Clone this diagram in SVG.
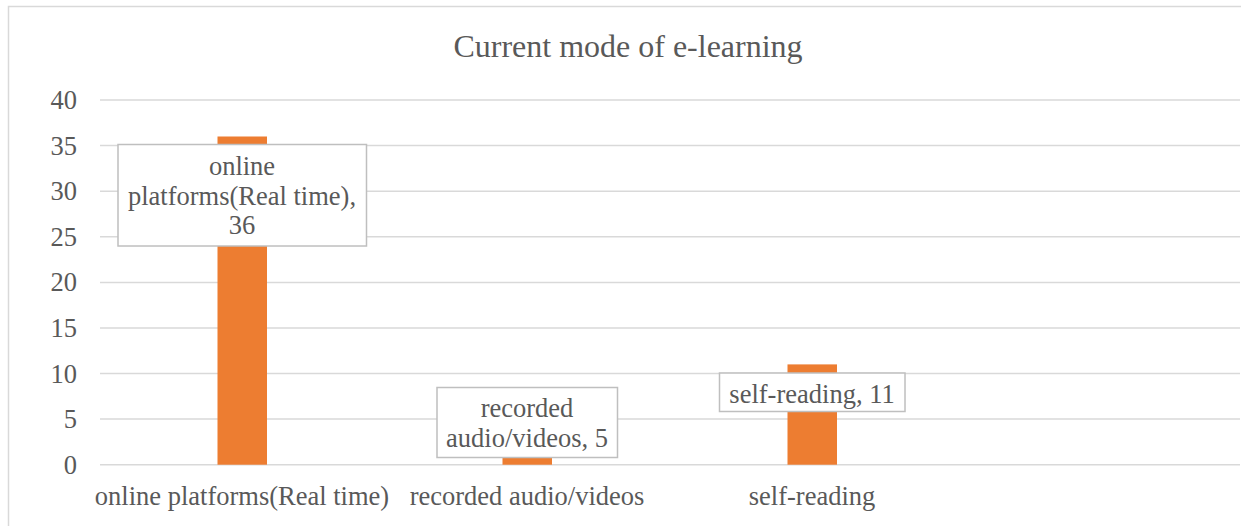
<svg xmlns="http://www.w3.org/2000/svg" width="1241" height="526" viewBox="0 0 1241 526">
<style>
.t{font-family:"Liberation Serif","Times New Roman",serif;fill:#595959}
.ax{font-size:26.5px}
.grid{stroke:#d9d9d9;stroke-width:1.5}
.bar{fill:#ed7d31}
.lbl{fill:#ffffff;stroke:#bfbfbf;stroke-width:1.5}
</style>
<rect x="0" y="0" width="1241" height="526" fill="#ffffff"/>
<path d="M8.5 526 V6.5 H1241" fill="none" stroke="#d9d9d9" stroke-width="1.5"/>
<text class="t" x="628" y="57" font-size="32" text-anchor="middle">Current mode of e-learning</text>
<g id="gridlines">
<line class="grid" x1="100" y1="100" x2="1240" y2="100"/>
<line class="grid" x1="100" y1="145.6" x2="1240" y2="145.6"/>
<line class="grid" x1="100" y1="191.2" x2="1240" y2="191.2"/>
<line class="grid" x1="100" y1="236.8" x2="1240" y2="236.8"/>
<line class="grid" x1="100" y1="282.4" x2="1240" y2="282.4"/>
<line class="grid" x1="100" y1="328" x2="1240" y2="328"/>
<line class="grid" x1="100" y1="373.5" x2="1240" y2="373.5"/>
<line class="grid" x1="100" y1="419.1" x2="1240" y2="419.1"/>
<line class="grid" x1="100" y1="464.7" x2="1240" y2="464.7"/>
</g>
<g id="yaxis" class="t ax" text-anchor="end">
<text x="77" y="109">40</text>
<text x="77" y="154.6">35</text>
<text x="77" y="200.2">30</text>
<text x="77" y="245.8">25</text>
<text x="77" y="291.4">20</text>
<text x="77" y="337">15</text>
<text x="77" y="382.5">10</text>
<text x="77" y="428.1">5</text>
<text x="77" y="473.7">0</text>
</g>
<g id="bar-online">
<rect class="bar" x="217.5" y="136.5" width="49.5" height="328.2"/>
</g>
<g id="bar-recorded">
<rect class="bar" x="502.5" y="419.1" width="49.5" height="45.6"/>
</g>
<g id="bar-self">
<rect class="bar" x="787.5" y="364.4" width="49.5" height="100.3"/>
</g>
<g id="label-online" class="t ax" text-anchor="middle">
<rect class="lbl" x="118" y="144.5" width="248.5" height="101.5"/>
<text x="242" y="175">online</text>
<text x="242" y="205">platforms(Real time),</text>
<text x="242" y="234">36</text>
</g>
<g id="label-recorded" class="t ax" text-anchor="middle">
<rect class="lbl" x="437" y="387.5" width="180.5" height="70"/>
<text x="527" y="417">recorded</text>
<text x="527" y="447">audio/videos, 5</text>
</g>
<g id="label-self" class="t ax" text-anchor="middle">
<rect class="lbl" x="719.5" y="373" width="185.5" height="38.5"/>
<text x="812" y="402.5">self-reading, 11</text>
</g>
<g id="xaxis" class="t ax" text-anchor="middle">
<text x="242" y="505">online platforms(Real time)</text>
<text x="527" y="505">recorded audio/videos</text>
<text x="812" y="505">self-reading</text>
</g>
</svg>
